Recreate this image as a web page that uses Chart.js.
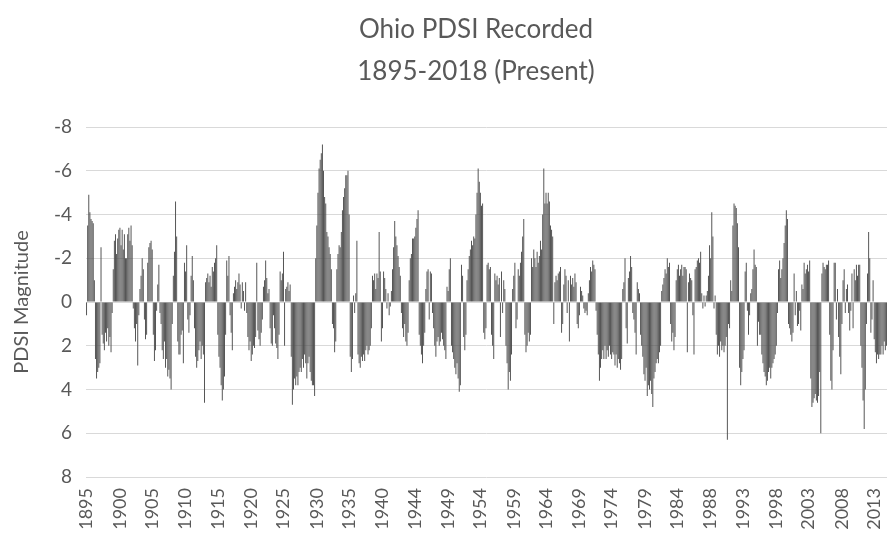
<!DOCTYPE html>
<html>
<head>
<meta charset="utf-8">
<title>Ohio PDSI</title>
<script src="https://cdn.jsdelivr.net/npm/chart.js@4/dist/chart.umd.min.js"></script>
<style>
  html, body { margin: 0; padding: 0; background: #fff; }
  #wrap { width: 888px; height: 542px; }
</style>
</head>
<body>
<div id="wrap"><canvas id="pdsiChart" width="888" height="542"></canvas></div>
<script>
// -------------------------
// DATA: Ohio PDSI, two-month steps (6 values per year)
// -------------------------

const pdsi1890s = [
   0.6, -3.5, -4.9, -4.1, -3.8, -3.7,   // 1895
  -3.6, -1.0,  2.6,  3.5,  3.2,  3.0,
   2.8, -2.5,  1.5,  1.9,  2.2,  1.4,
   1.8,  1.2,  2.0,  1.6,  2.3,  0.5,
  -1.5, -2.8, -3.1, -2.2, -2.9, -3.3
];
const pdsi1900s = [
  -3.4, -2.6, -3.3, -2.4, -3.1, -2.0,   // 1900
  -2.0, -3.1, -3.4, -2.8, -3.5, -2.6,
   0.3,  1.2,  1.8,  1.0,  2.9,  0.6,
  -0.6, -1.2, -2.0, -1.5,  0.8,  1.7,
   1.5, -1.8, -2.5, -2.7, -2.8, -2.4,
   1.5,  2.7,  2.2,  0.4, -0.8, -1.7,   // 1905
   0.5,  1.0,  2.2,  2.6,  1.8,  3.0,
   2.6,  3.4,  3.1,  3.5,  4.0,  1.0,
  -1.2, -2.3, -4.6, -3.0,  1.8,  2.4,
   2.4,  1.5,  1.3,  2.8, -1.8, -1.4
];
const pdsi1910s = [
  -2.6,  0.8,  1.4,  0.6, -1.2, -2.1,   // 1910
  -1.0,  1.2,  2.5,  3.0,  2.7,  2.2,
   1.8,  2.6,  2.0,  2.4,  4.6, -0.9,
  -1.1, -1.3, -0.9, -1.2, -0.7, -1.6,
  -1.4, -1.8, -2.0, -2.6,  1.5,  2.5,
   3.0,  3.8,  4.5,  4.0,  3.4,  1.5,   // 1915
  -1.9, -1.2, -2.1,  0.6,  1.4,  2.2,
  -0.4, -0.7, -1.0, -0.6, -0.9, -1.3,
  -0.8,  0.3, -0.9, -0.5,  0.4, -0.9,
   0.5,  1.6,  2.2,  1.8,  2.7,  2.4
];
const pdsi1920s = [
   2.0,  2.1,  1.6, -1.8,  1.3,  1.7,   // 1920
   2.0,  1.4,  0.8, -0.7, -1.0, -1.9,
  -1.1, -0.4, -0.6,  1.2,  1.9,  2.0,
   0.6,  1.2,  1.9,  2.1,  2.6,  1.5,
  -1.4, -1.0, -1.3, -2.3,  2.0, -0.6,
  -0.7, -0.9, -0.5, -0.8,  2.5,  4.7,   // 1925
   4.0,  3.5,  3.8,  3.4,  3.8,  3.2,
   3.0,  3.2,  2.6,  3.0,  2.4,  2.8,
   3.5,  2.8,  2.5,  3.2,  3.6,  3.8,
   3.8,  4.3, -2.0, -3.5, -5.0, -6.1
];
const pdsi1930s = [
  -6.5, -6.8, -7.2, -6.0, -4.8, -4.5,   // 1930
  -3.2, -3.0, -2.5, -2.2, -1.5,  1.0,
   1.2,  2.3,  1.8, -1.5, -2.2, -2.6,
  -2.5, -3.2, -4.2, -4.8, -5.2, -5.8,
  -5.8, -6.0, -4.0,  2.5,  3.2,  2.6,
  -0.3,  0.5, -0.4, -2.8,  2.4,  2.8,   // 1935
   3.0,  2.5,  2.7,  2.4,  2.7,  2.2,
   2.0,  2.4,  2.2,  2.0,  1.2, -1.2,
  -1.0, -1.3, -0.6, -1.3, -1.1, -3.2,
  -1.4,  1.8,  1.2, -1.4, -1.1, -0.6
];
const pdsi1940s = [
   0.3, -0.4,  0.6,  0.2, -0.5, -1.5,   // 1940
  -2.5, -3.7, -3.0, -2.6, -2.1, -1.6,
  -1.2,  0.5,  1.2,  1.6,  1.0,  1.8,
   2.0,  1.4, -1.0, -2.0, -2.2, -2.9,
  -2.9, -3.0, -3.4, -3.8, -4.2,  1.5,
   2.0,  2.4,  2.8,  2.0,  1.4, -0.6,   // 1945
  -1.4, -1.5,  0.8, -1.4, -1.3,  0.5,
   1.2,  2.0,  2.5,  1.8,  1.6,  2.0,
   1.8,  1.4,  1.7,  2.0,  2.2,  2.6,
  -0.7, -0.5, -1.5, -2.0,  2.0,  2.3
];
const pdsi1950s = [
   2.6,  3.0,  3.3,  2.8,  3.5,  4.1,   // 1950
   3.8, -1.7, -1.2,  1.6,  2.2,  1.5,
  -1.0, -1.5, -2.1, -2.4, -2.8, -2.6,
  -3.0, -2.9, -4.0, -5.0, -6.1, -5.5,
  -5.0, -4.4, -4.5,  1.4,  1.7,  1.2,
  -1.7, -1.8, -1.5, -1.6,  1.5,  2.0,   // 1955
   2.6, -1.3, -1.0, -1.2, -0.8, -1.1,
   1.6, -1.4,  0.5, -1.0, -0.6,  2.0,
   2.8,  4.0,  3.2,  3.6,  2.4, -0.6,
  -1.2, -1.8,  1.2,  0.8, -1.5, -1.2
];
const pdsi1960s = [
  -1.8, -2.3, -3.0, -3.8,  1.5,  2.3,   // 1960
   2.0,  1.4,  1.8,  1.5, -2.0, -1.6,
  -2.4, -2.0, -1.6, -2.3, -1.8, -2.1,
  -2.8, -2.4, -4.0, -6.1, -4.5, -5.0,
  -4.5, -5.0, -4.6, -3.5, -3.3, -3.0,
   1.0, -0.9, -1.2, -1.0, -1.3, -1.4,   // 1965
  -1.6,  1.4,  1.0, -0.8, -1.5, -1.2,
   0.5, -1.0,  1.8, -1.2, -0.8, -1.1,
  -0.7, -1.3, -0.9,  1.0,  1.2,  0.6,
  -0.7, -0.5, -0.3,  0.3,  0.5,  0.4
];
const pdsi1970s = [
   0.6, -0.4, -1.0, -1.6, -1.4, -1.9,   // 1970
  -1.7, -1.5,  0.4,  1.5,  2.4,  3.6,
   3.0,  2.6,  2.2,  2.6,  2.0,  2.6,
   2.2,  2.5,  2.0,  2.4,  2.6,  2.3,
   2.4,  2.9,  2.4,  3.0,  2.6,  2.8,
   3.1,  2.6, -0.6, -0.9, -2.0,  1.2,   // 1975
   1.9, -1.1, -1.4, -2.1, -1.6,  0.5,
   0.8,  1.4,  2.4, -0.9, -0.6, -0.4,
   1.5,  2.0,  2.5,  3.3,  3.6,  3.0,
   4.3,  3.8,  4.0,  3.6,  4.2,  4.8
];
const pdsi1980s = [
   3.5,  3.2,  2.8,  2.6,  2.8,  2.3,   // 1980
   2.0, -0.5, -0.8, -1.1, -1.5, -1.3,
  -2.0, -1.6, -1.8,  1.0,  1.8,  1.4,
   2.2,  1.6, -1.0, -1.5, -1.7, -1.2,
  -1.5, -1.7, -1.2, -1.6, -1.6, -1.5,
   2.3, -0.9, -1.3, -1.1, -1.0,  0.6,   // 1985
   2.4, -1.5, -1.6, -1.9, -2.0, -1.8,
  -2.3, -0.4,  0.3, -0.3,  0.2, -0.3,
  -0.5, -1.2, -2.6, -2.0, -4.1, -3.0,
   0.3, -0.3,  1.5,  2.4,  2.0,  2.5
];
const pdsi1990s = [
   1.8,  2.2,  2.0,  2.3,  2.0,  1.6,   // 1990
   6.3,  1.0,  1.2, -1.0, -0.5, -3.5,
  -4.5, -4.4, -4.3, -3.6, -2.5,  3.0,
   3.8,  3.2,  2.6,  2.2, -1.4, -1.8,
   0.4,  1.5,  0.6, -0.4, -0.6, -1.5,
  -2.4, -1.7, -1.6,  2.0,  0.9,  1.5,   // 1995
   1.5,  2.4,  2.8,  3.2,  3.4,  3.8,
   3.6,  3.2,  3.0,  3.5,  3.0,  2.8,
   2.6,  2.4,  2.0,  0.5, -1.5, -1.9,
  -1.1, -1.5, -2.0, -2.7, -3.5, -4.2
];
const pdsi2000s = [
  -3.8,  1.0,  1.2,  1.5,  1.8,  1.4,   // 2000
  -1.3,  0.6, -0.5,  1.1,  1.0,  0.4,
   1.3, -0.8, -0.6, -1.8, -1.3, -1.5,
  -1.7, -1.4, -1.9,  3.5,  4.8,  4.6,
   4.4,  4.2,  4.5,  4.6,  4.3,  3.2,
   6.0, -1.3, -1.8, -1.6, -1.5, -1.7,   // 2005
  -1.7, -1.9,  1.5,  3.6,  4.0,  2.2,
  -1.8, -1.8,  0.8, -0.6,  1.6,  2.5,
   3.3,  1.0, -1.0, -1.5,  0.5, -0.6,
  -0.8,  0.5,  1.3,  0.4, -1.3,  1.2
];
const pdsi2010s = [
  -1.5, -1.0, -1.7, -1.2, -1.7, -1.7,   // 2010
   2.0,  3.0,  4.5,  5.8,  4.0,  1.0,
  -1.3, -3.2, -2.0,  1.4,  0.8, -1.0,
   1.7,  2.3,  2.8,  2.4,  2.6,  2.4,
   2.4,  2.0,  2.4,  1.8,  2.2,  2.0
];

// year labels shown along the bottom axis, one every 29.5 bars
const yearTicks = [
  "1895", "1900", "1905", "1910", "1915", "1920", "1925", "1930", "1935",
  "1940", "1944", "1949", "1954", "1959", "1964", "1969", "1974", "1979",
  "1984", "1988", "1993", "1998", "2003", "2008", "2013"
];
const tickStep = 29.5;

const titleLines = ["Ohio PDSI Recorded", "1895-2018 (Present)"];
const yTicks = [-8, -6, -4, -2, 0, 2, 4, 6, 8];

// -------------------------
// BUILD SERIES
// -------------------------

const pdsi = [].concat(pdsi1890s, pdsi1900s, pdsi1910s, pdsi1920s, pdsi1930s,
  pdsi1940s, pdsi1950s, pdsi1960s, pdsi1970s, pdsi1980s, pdsi1990s,
  pdsi2000s, pdsi2010s);
const labels = pdsi.map((v, i) => String(1895 + Math.floor(i / 6)));

const grey = '#595959';
const font = 'Lato, "Open Sans", sans-serif';

// two-line heading drawn straight on the canvas
const headingPlugin = {
  id: 'heading',
  afterDraw(chart) {
    const ctx = chart.ctx;
    ctx.save();
    ctx.fillStyle = grey;
    ctx.font = '26px ' + font;
    ctx.textAlign = 'center';
    ctx.textBaseline = 'middle';
    ctx.fillText(titleLines[0], 476, 30);
    ctx.fillText(titleLines[1], 476, 72);
    ctx.restore();
  }
};

new Chart(document.getElementById('pdsiChart'), {
  type: 'bar',
  data: {
    labels: labels,
    datasets: [{
      label: 'PDSI',
      data: pdsi,
      backgroundColor: '#4d4d4d',
      borderWidth: 0,
      barPercentage: 0.85,
      categoryPercentage: 1.0
    }]
  },
  options: {
    responsive: false,
    animation: false,
    devicePixelRatio: 1,
    layout: { padding: { top: 127, right: 1, bottom: 0, left: 0 } },
    plugins: {
      legend: { display: false },
      tooltip: { enabled: false }
    },
    scales: {
      x: {
        grid: { display: false, drawTicks: false },
        border: { display: false },
        ticks: {
          autoSkip: false,
          maxRotation: 90,
          minRotation: 90,
          padding: 11,
          color: grey,
          font: { family: font, size: 18 },
          callback: function (value, index) {
            const k = Math.round(index / tickStep);
            return Math.round(k * tickStep) === index ? yearTicks[k] : '';
          }
        },
        afterFit: s => { s.height = 65; s.paddingLeft = 0; s.paddingRight = 0; }
      },
      y: {
        reverse: true,
        min: -8,
        max: 8,
        afterBuildTicks: s => { s.ticks = yTicks.map(v => ({ value: v })); },
        grid: { color: '#d9d9d9', lineWidth: 1, drawTicks: false },
        border: { display: false },
        ticks: {
          padding: 14,
          color: grey,
          font: { family: font, size: 19 }
        },
        title: {
          display: true,
          text: 'PDSI Magnitude',
          color: grey,
          font: { family: font, size: 20 },
          padding: { top: 10, bottom: 0 }
        },
        afterFit: s => { s.width = 86; s.paddingTop = 0; s.paddingBottom = 0; }
      }
    }
  },
  plugins: [headingPlugin]
});
</script>
</body>
</html>
